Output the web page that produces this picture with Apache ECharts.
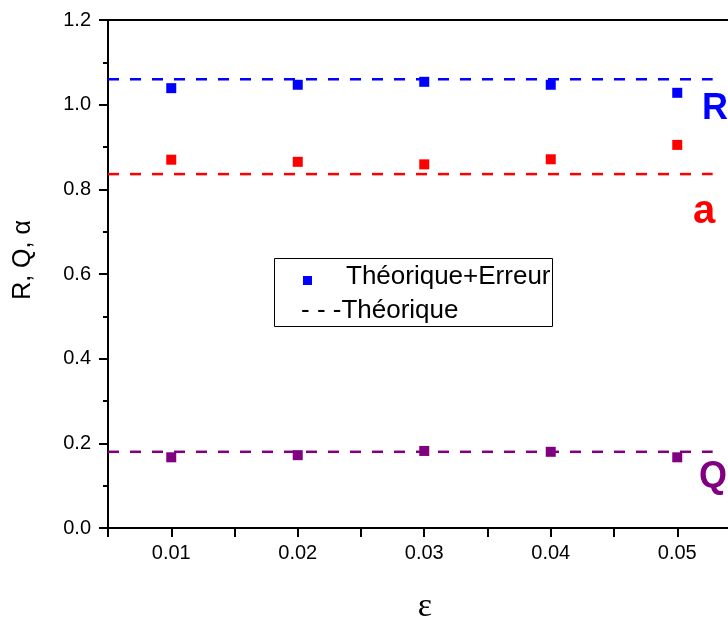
<!DOCTYPE html>
<html><head><meta charset="utf-8">
<script src="https://cdn.jsdelivr.net/npm/echarts@6/dist/echarts.min.js"></script>
<style>html,body{margin:0;padding:0;background:#fff}#c{width:728px;height:618px}</style>
</head><body><div id="c"></div>
<script>
const eps = [0.01, 0.02, 0.03, 0.04, 0.05];
const R_err = [1.039, 1.047, 1.054, 1.047, 1.028];
const a_err = [0.870, 0.865, 0.859, 0.871, 0.905];
const Q_err = [0.167, 0.172, 0.182, 0.180, 0.167];
const R_th = 1.06, a_th = 0.836, Q_th = 0.180;
const lineX = [0.005, 0.0528];

const BLUE = '#0000FF', RED = '#FF0000', PURPLE = '#800080';
const FONT = 'Liberation Sans, Arial, sans-serif';
const pts = (ys) => eps.map((x, i) => [x, ys[i]]);
const hline = (v) => lineX.map(x => [x, v]);

const chart = echarts.init(document.getElementById('c'), null, {renderer: 'canvas'});
const scatter = (d, c) => ({type: 'scatter', data: pts(d), symbol: 'rect', symbolSize: 10, itemStyle: {color: c, opacity: 1}, z: 3});
const dashed = (v, c) => ({type: 'line', data: hline(v), symbol: 'none', lineStyle: {color: c, width: 2.5, type: [11, 11]}, z: 2});

chart.setOption({
  animation: false,
  grid: {left: 108, top: 20, width: 632.5, bottom: 90, containLabel: false, outerBoundsMode: 'none'},
  xAxis: [{
    type: 'value', min: 0.005, max: 0.055, interval: 0.005,
    axisLine: {show: true, lineStyle: {color: '#000', width: 2}},
    axisTick: {show: true, length: 9, lineStyle: {color: '#000', width: 2}},
    axisLabel: {color: '#000', fontSize: 20, fontFamily: FONT, margin: 15,
      formatter: v => (Math.round(v * 1000) % 10 === 0) ? v.toFixed(2) : ''},
    splitLine: {show: false}
  }, {
    type: 'value', position: 'top', min: 0.005, max: 0.055,
    axisLine: {show: true, onZero: false, lineStyle: {color: '#000', width: 2}},
    axisTick: {show: false}, axisLabel: {show: false}, splitLine: {show: false}
  }],
  yAxis: {
    type: 'value', min: 0, max: 1.2, interval: 0.2,
    axisLine: {show: true, lineStyle: {color: '#000', width: 2}},
    axisTick: {show: true, length: 9, lineStyle: {color: '#000', width: 2}},
    minorTick: {show: true, splitNumber: 2, length: 5, lineStyle: {color: '#000', width: 2}},
    axisLabel: {color: '#000', fontSize: 20, fontFamily: FONT, margin: 17,
      formatter: v => v.toFixed(1)},
    splitLine: {show: false}
  },
  series: [
    dashed(R_th, BLUE), dashed(a_th, RED), dashed(Q_th, PURPLE),
    scatter(R_err, BLUE), scatter(a_err, RED), scatter(Q_err, PURPLE)
  ],
  graphic: [
    {type: 'text', x: 23, y: 260, rotation: Math.PI / 2, style: {text: 'R, Q, α', font: '25px ' + FONT, fill: '#000', textAlign: 'center', textVerticalAlign: 'middle'}},
    {type: 'text', x: 425, y: 607, style: {text: 'ε', font: '34px Liberation Serif, serif', fill: '#000', textAlign: 'center', textVerticalAlign: 'middle'}},
    {type: 'rect', shape: {x: 274.5, y: 258.5, width: 278, height: 68}, style: {fill: '#fff', stroke: '#000', lineWidth: 1}, z: 10},
    {type: 'rect', shape: {x: 303, y: 276, width: 9, height: 9}, style: {fill: BLUE}, z: 11},
    {type: 'text', x: 346, y: 277, style: {text: 'Théorique+Erreur', font: '26px ' + FONT, fill: '#000', textVerticalAlign: 'middle'}, z: 11},
    {type: 'text', x: 301, y: 311, style: {text: '- - -Théorique', font: '26px ' + FONT, fill: '#000', textVerticalAlign: 'middle'}, z: 11},
    {type: 'text', x: 702, y: 109, style: {text: 'R', font: 'bold 36px ' + FONT, fill: BLUE, textVerticalAlign: 'middle'}, z: 11},
    {type: 'text', x: 693, y: 212, style: {text: 'a', font: 'bold 40px ' + FONT, fill: RED, textVerticalAlign: 'middle'}, z: 11},
    {type: 'text', x: 699, y: 477, style: {text: 'Q', font: 'bold 36px ' + FONT, fill: PURPLE, textVerticalAlign: 'middle'}, z: 11}
  ]
});
</script></body></html>
